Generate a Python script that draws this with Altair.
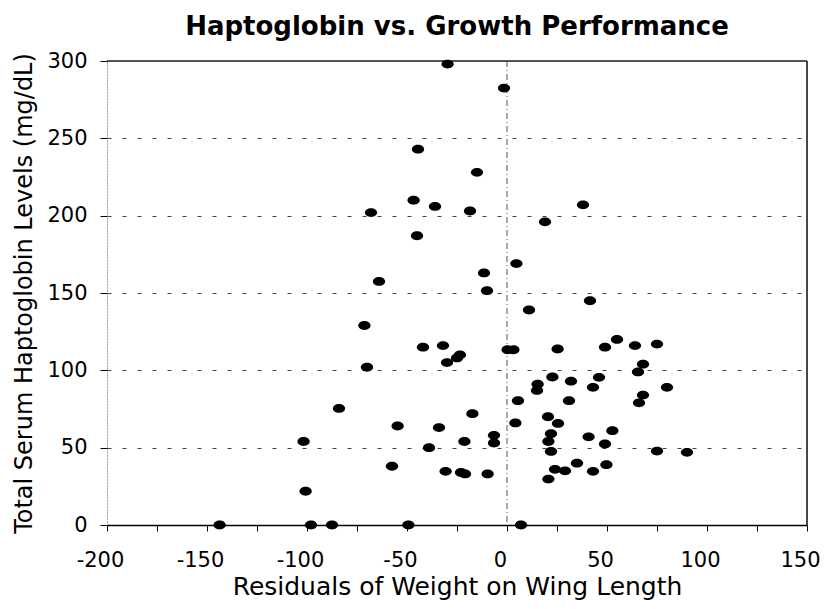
import altair as alt
import pandas as pd

# Residuals of weight on wing length (x) and haptoglobin level (y)
resid = [-29.7, -1.5, -44.5, -15, -46.7, -36, -68, -18.5, 38, 19, -45, 4.7, -11.5, -64, -10,
         41.5, 11, -71.3, -42, -32, -23.5, -25, -30, 0.3, 3.2, 25.3, -70, 22.7, 32, 46, 15.3,
         15, 43, 5.5, 31, -17.3, -54.7, -34, 4.2, 20.5, 25.5, 22, 20.7, 40.8, -6.5, -6.5,
         -21.3, -39, 22, -57.5, -30.7, -23, -21, -9.7, 24, 29, 35, 43, 20.7, -49.3, 7, 55, 49,
         64, 75, 68, 65.5, 80, 68, 66, 52.7, 49, 75, 90, 49.7, -84, -101.7, -100.7, -143.7,
         -98, -87.5]
hapto = [298, 282.5, 243, 228, 210, 206, 202, 203, 207, 196, 187, 169, 163, 157.5, 151.5,
         145, 139, 129, 115, 116, 110, 108, 105, 113.3, 113.3, 113.8, 102, 95.7, 93, 95.5, 91,
         87, 89, 80.4, 80.4, 72, 64, 63, 66, 70, 65.7, 59, 54, 57, 58, 53,
         54, 50, 47.6, 38, 34.7, 34, 33, 33, 36, 35, 40, 34.7, 29.7, 0, 0, 120, 115,
         116, 117, 104, 99, 89, 84, 79, 61, 52.4, 47.8, 47, 39, 75.4, 54, 21.8, 0,
         0, 0]

x_ticks = [-200, -175, -150, -125, -100, -75, -50, -25, 0, 25, 50, 75, 100, 125, 150]
y_ticks = [0, 25, 50, 75, 100, 125, 150, 175, 200, 225, 250, 275, 300]

df = pd.DataFrame({"resid": resid, "hapto": hapto})

FONT = "DejaVu Sans"
ELLIPSE = "M-1,0 A1,0.72 0 1,0 1,0 A1,0.72 0 1,0 -1,0 Z"

xscale = alt.Scale(domain=[-200, 150], nice=False, zero=False)
yscale = alt.Scale(domain=[0, 300], nice=False)

xaxis = alt.Axis(values=x_ticks, title="Residuals of Weight on Wing Length",
                 labelExpr="datum.value % 50 == 0 ? '' + datum.value : ''",
                 labelFont=FONT, labelFontSize=21, labelColor="black", labelOffset=-7,
                 labelPadding=18, tickSize=6, tickColor="black", domainColor="black",
                 domainWidth=1.5, grid=False, labelFlush=False,
                 titleFont=FONT, titleFontSize=25, titleFontWeight="normal", titleColor="black",
                 titleY=69, titleBaseline="alphabetic")
yaxis = alt.Axis(values=y_ticks, title="Total Serum Haptoglobin Levels (mg/dL)",
                 labelExpr="datum.value % 50 == 0 ? '' + datum.value : ''",
                 labelFont=FONT, labelFontSize=21, labelColor="black",
                 labelPadding=13, tickSize=7, tickColor="black",
                 domainColor="#777", domainDash=[1, 2], labelFlush=False,
                 grid=True, gridColor="#444", gridDash=[4, 11], gridWidth=1,
                 gridOpacity={"condition": {"test": "datum.value % 50 == 0 && datum.value > 0 && datum.value < 300", "value": 1}, "value": 0},
                 titleFont=FONT, titleFontSize=24, titleFontWeight="normal", titleColor="black",
                 titleX=-76, titleBaseline="alphabetic")

points = alt.Chart(df).mark_point(shape=ELLIPSE, filled=True, color="black", opacity=1,
                                  size=150).encode(
    x=alt.X("resid:Q", scale=xscale, axis=xaxis),
    y=alt.Y("hapto:Q", scale=yscale, axis=yaxis),
)

zero_line = alt.Chart(pd.DataFrame({"x": [0]})).mark_rule(
    color="#555", strokeDash=[6, 3, 1, 3], strokeWidth=1).encode(
    x=alt.X("x:Q", scale=xscale))

top_border = alt.Chart(pd.DataFrame({"y": [300]})).mark_rule(
    color="#222", strokeWidth=1.5).encode(y=alt.Y("y:Q", scale=yscale))
right_border = alt.Chart(pd.DataFrame({"x": [150]})).mark_rule(
    color="#111", strokeWidth=1.5).encode(x=alt.X("x:Q", scale=xscale))

chart = alt.layer(zero_line, top_border, right_border, points).properties(
    width=700, height=464,
    title=alt.Title("Haptoglobin vs. Growth Performance", font=FONT, fontSize=26,
                    fontWeight="bold", color="black", anchor="middle", offset=10),
    autosize=alt.AutoSizeParams(type="none"),
    padding={"left": 99, "top": 53, "right": 15, "bottom": 76},
).configure_view(stroke=None).configure(background="white")

chart.save("out.html", embed_options={"renderer": "svg", "actions": False})
